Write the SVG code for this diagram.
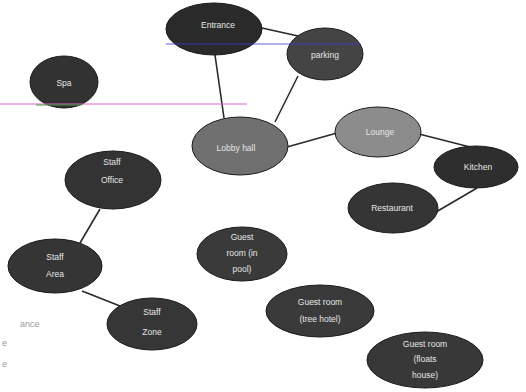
<svg xmlns="http://www.w3.org/2000/svg" width="526" height="392" viewBox="0 0 526 392">
<style>
.n{stroke:#1a1a1a;stroke-width:1}
.t{font-family:"Liberation Sans",Arial,sans-serif;font-size:8.5px;fill:#e6e6e6;text-anchor:middle}
.lg{font-family:"Liberation Sans",Arial,sans-serif;font-size:9px;fill:#9a9a9a}
#conn line{stroke:#2a2a2a;stroke-width:1.6}
</style>
<rect width="526" height="392" fill="#ffffff"/>
<g id="conn">
<line x1="262" y1="28" x2="298" y2="36"/>
<line x1="215" y1="55" x2="224" y2="118"/>
<line x1="298" y1="76" x2="275" y2="122"/>
<line x1="287" y1="147" x2="337" y2="133"/>
<line x1="419" y1="134" x2="470" y2="147"/>
<line x1="477" y1="188" x2="436" y2="212"/>
<line x1="100" y1="209" x2="80" y2="243"/>
<line x1="82" y1="291" x2="120" y2="306"/>
</g>
<g id="entrance"><ellipse class="n" cx="214" cy="29" rx="48" ry="26" fill="#2a2a2a"/><text class="t" x="218" y="28">Entrance</text></g>
<g id="parking"><ellipse class="n" cx="325" cy="54" rx="38" ry="26" fill="#444444"/><text class="t" x="325" y="58">parking</text></g>
<g id="spa"><ellipse class="n" cx="64" cy="82" rx="34" ry="26" fill="#323232"/><text class="t" x="64" y="86">Spa</text></g>
<g id="lobby"><ellipse class="n" cx="240" cy="146" rx="48" ry="29" fill="#707070"/><text class="t" x="236" y="151">Lobby hall</text></g>
<g id="lounge"><ellipse class="n" cx="378" cy="132" rx="43" ry="25" fill="#8c8c8c"/><text class="t" x="380" y="135">Lounge</text></g>
<g id="kitchen"><ellipse class="n" cx="476" cy="167" rx="42" ry="21" fill="#2e2e2e"/><text class="t" x="478" y="170">Kitchen</text></g>
<g id="restaurant"><ellipse class="n" cx="393" cy="208" rx="45" ry="25" fill="#353535"/><text class="t" x="392" y="211">Restaurant</text></g>
<g id="staff1"><ellipse class="n" cx="113" cy="180" rx="48" ry="29" fill="#333333"/><text class="t" x="112" y="165">Staff</text><text class="t" x="112" y="183">Office</text></g>
<g id="staff2"><ellipse class="n" cx="55" cy="266" rx="47" ry="27" fill="#353535"/><text class="t" x="55" y="260">Staff</text><text class="t" x="55" y="277">Area</text></g>
<g id="staff3"><ellipse class="n" cx="152" cy="324" rx="45" ry="26" fill="#363636"/><text class="t" x="152" y="315">Staff</text><text class="t" x="152" y="335">Zone</text></g>
<g id="guestpool"><ellipse class="n" cx="242" cy="254" rx="45" ry="27" fill="#3a3a3a"/><text class="t" x="242" y="240">Guest</text><text class="t" x="242" y="256">room (in</text><text class="t" x="242" y="272">pool)</text></g>
<g id="guesttree"><ellipse class="n" cx="320" cy="311" rx="54" ry="26" fill="#3a3a3a"/><text class="t" x="320" y="305">Guest room</text><text class="t" x="320" y="322">(tree hotel)</text></g>
<g id="guestfloat"><ellipse class="n" cx="425" cy="360" rx="58" ry="28" fill="#383838"/><text class="t" x="425" y="347">Guest room</text><text class="t" x="425" y="362">(floats</text><text class="t" x="425" y="378">house)</text></g>
<line x1="0" y1="104" x2="247" y2="104" stroke="#e060c8" stroke-width="1"/>
<line x1="36" y1="105" x2="82" y2="105" stroke="#3c9a3c" stroke-width="1"/>
<line x1="166" y1="44" x2="360" y2="44" stroke="#3a3ad0" stroke-width="1" opacity="0.8"/>
<text class="lg" x="20" y="327">ance</text>
<text class="lg" x="2" y="346">e</text>
<text class="lg" x="2" y="367">e</text>
</svg>
